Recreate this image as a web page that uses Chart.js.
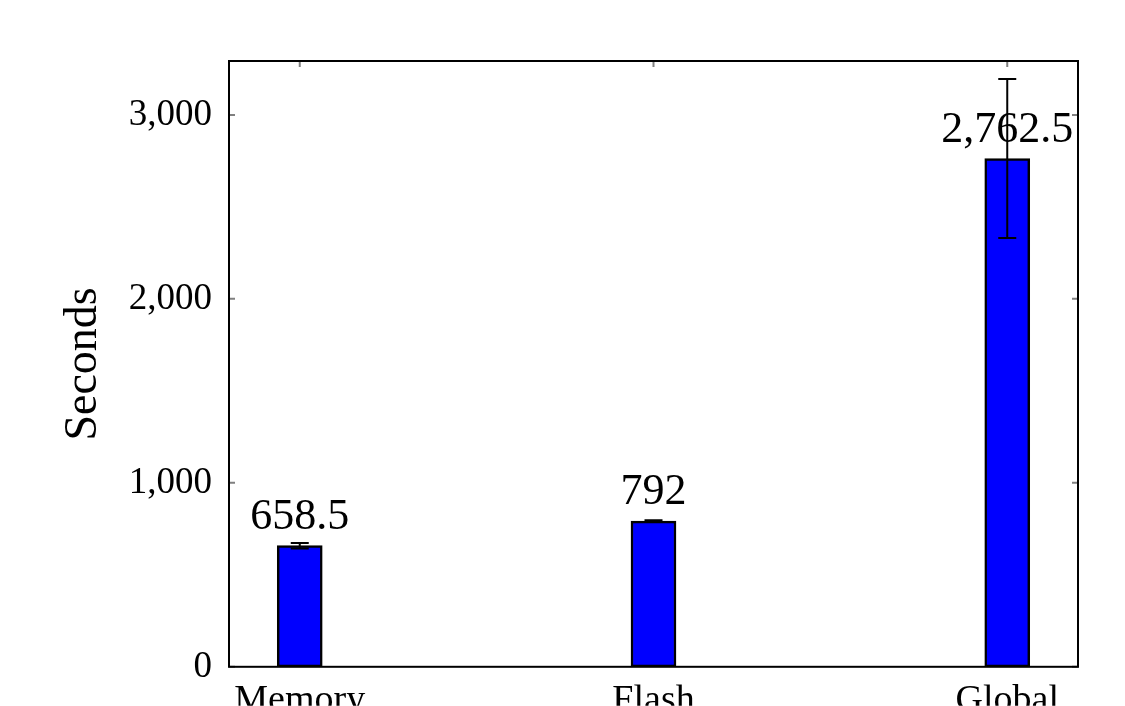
<!DOCTYPE html>
<html>
<head>
<meta charset="utf-8">
<script src="https://cdn.jsdelivr.net/npm/chart.js@4.4.1/dist/chart.umd.min.js"></script>
<style>
html,body{margin:0;padding:0;background:#fff;}
#wrap{width:1125px;height:706px;position:relative;}
</style>
</head>
<body>
<div id="wrap"><canvas id="c" width="1125" height="706"></canvas></div>
<script>
const categories = ['Memory', 'Flash', 'Global'];
const seconds = [658.5, 792, 2762.5];
const errorMinus = [15, 5, 432];
const errorPlus = [15, 5, 432];
const yTicks = [0, 1000, 2000, 3000];

const FONT = "'Liberation Serif', 'DejaVu Serif', serif";

const points = categories.map((c, i) => ({x: i, y: seconds[i]}));

const framePlugin = {
  id: 'frame',
  beforeDatasetsDraw(chart) {
    const {ctx, chartArea: a, scales} = chart;
    ctx.save();
    ctx.strokeStyle = '#808080';
    ctx.lineWidth = 2;
    const tl = 6;
    categories.forEach((c, i) => {
      const px = scales.x.getPixelForValue(i);
      ctx.beginPath();
      ctx.moveTo(px, a.top); ctx.lineTo(px, a.top + tl);
      ctx.moveTo(px, a.bottom); ctx.lineTo(px, a.bottom - tl);
      ctx.stroke();
    });
    yTicks.forEach(v => {
      const py = scales.y.getPixelForValue(v);
      ctx.beginPath();
      ctx.moveTo(a.left, py); ctx.lineTo(a.left + tl, py);
      ctx.moveTo(a.right, py); ctx.lineTo(a.right - tl, py);
      ctx.stroke();
    });
    ctx.restore();
  },
  afterDatasetsDraw(chart) {
    const {ctx, chartArea: a, scales} = chart;
    const meta = chart.getDatasetMeta(0);
    ctx.save();
    ctx.strokeStyle = '#000';
    ctx.lineWidth = 2;
    meta.data.forEach((bar, i) => {
      const yHi = scales.y.getPixelForValue(seconds[i] + errorPlus[i]);
      const yLo = scales.y.getPixelForValue(seconds[i] - errorMinus[i]);
      const cap = 9;
      ctx.beginPath();
      ctx.moveTo(bar.x, yHi); ctx.lineTo(bar.x, yLo);
      ctx.moveTo(bar.x - cap, yHi); ctx.lineTo(bar.x + cap, yHi);
      ctx.moveTo(bar.x - cap, yLo); ctx.lineTo(bar.x + cap, yLo);
      ctx.stroke();
    });
    ctx.lineWidth = 2;
    ctx.strokeStyle = '#000';
    ctx.strokeRect(a.left, a.top, a.right - a.left, a.bottom - a.top);
    ctx.fillStyle = '#000';
    ctx.font = "44px " + FONT;
    ctx.textAlign = 'center';
    ctx.textBaseline = 'alphabetic';
    meta.data.forEach((bar, i) => {
      const s = seconds[i].toLocaleString('en-US', {maximumFractionDigits: 1});
      ctx.fillText(s, bar.x, bar.y - 17);
    });
    ctx.restore();
  }
};

new Chart(document.getElementById('c'), {
  type: 'bar',
  data: {
    datasets: [{
      data: points,
      backgroundColor: '#0000ff',
      borderColor: '#000000',
      borderWidth: 2.5,
      borderSkipped: false,
      barThickness: 45
    }]
  },
  options: {
    responsive: false,
    animation: false,
    devicePixelRatio: 1,
    layout: {padding: {top: 61, right: 47, left: 0, bottom: 0}},
    plugins: {legend: {display: false}, tooltip: {enabled: false}},
    scales: {
      x: {
        type: 'linear',
        offset: false,
        min: -0.2,
        max: 2.2,
        grid: {display: false, drawTicks: false, offset: false},
        border: {display: false},
        afterBuildTicks(scale) { scale.ticks = categories.map((c, i) => ({value: i})); },
        afterFit(scale) { scale.height = 39; },
        ticks: {
          padding: 11,
          color: '#000',
          font: {family: FONT, size: 38},
          callback: (v) => categories[v] ?? ''
        }
      },
      y: {
        min: 0,
        max: 3293,
        grid: {display: false, drawTicks: false},
        border: {display: false},
        afterBuildTicks(scale) { scale.ticks = yTicks.map(v => ({value: v})); },
        afterFit(scale) { scale.width = 229; },
        ticks: {
          padding: 17,
          color: '#000',
          font: {family: FONT, size: 37},
          callback: (v) => v.toLocaleString('en-US')
        },
        title: {
          display: true,
          text: 'Seconds',
          color: '#000',
          font: {family: FONT, size: 46},
          padding: {top: 56, bottom: 0}
        }
      }
    }
  },
  plugins: [framePlugin]
});
</script>
</body>
</html>
